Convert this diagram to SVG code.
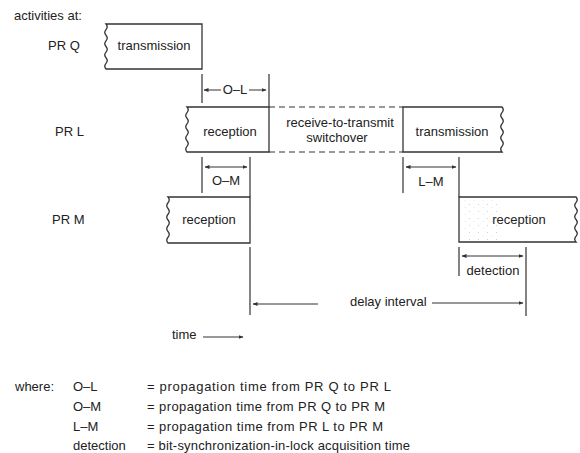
<svg xmlns="http://www.w3.org/2000/svg" width="580" height="453" viewBox="0 0 580 453">
<style>
text{font-family:"Liberation Sans",Arial,sans-serif;font-size:13px;fill:#222}
.c{text-anchor:middle}
.box{fill:#fff;stroke:#333;stroke-width:1.3}
.ln{stroke:#333;stroke-width:1.2;fill:none}
.dash{stroke:#333;stroke-width:1.2;stroke-dasharray:6 4;fill:none}
.ar{stroke:#333;stroke-width:1;fill:none;marker-end:url(#ah)}
.ar2{stroke:#333;stroke-width:1;fill:none;marker-end:url(#ah);marker-start:url(#ah)}
</style>
<defs>
<marker id="ah" viewBox="0 0 10 10" refX="9" refY="5" markerWidth="5" markerHeight="5" orient="auto-start-reverse" markerUnits="userSpaceOnUse"><path d="M0,1 L10,5 L0,9 z" fill="#333"/></marker>
<pattern id="spk" width="9" height="7" patternUnits="userSpaceOnUse"><circle cx="1.5" cy="1.5" r="0.6" fill="#ccc"/><circle cx="6" cy="4.5" r="0.5" fill="#ddd"/></pattern>
</defs>
<rect width="580" height="453" fill="#fff"/>
<g id="labels">
<text x="14" y="20">activities at:</text>
<text x="48" y="50">PR Q</text>
<text x="55" y="136">PR L</text>
<text x="52" y="224">PR M</text>
</g>
<g id="q-transmission">
<path class="box" d="M106,24 H202 V69 H106 q-2.5,-2.8 0,-5.625 q2.5,-2.8 0,-5.625 q-2.5,-2.8 0,-5.625 q2.5,-2.8 0,-5.625 q-2.5,-2.8 0,-5.625 q2.5,-2.8 0,-5.625 q-2.5,-2.8 0,-5.625 q2.5,-2.8 0,-5.625 Z"/>
<text class="c" x="154" y="50">transmission</text>
</g>
<g id="l-reception">
<path class="box" d="M187,107 H269 V152 H187 q-2.5,-2.8 0,-5.625 q2.5,-2.8 0,-5.625 q-2.5,-2.8 0,-5.625 q2.5,-2.8 0,-5.625 q-2.5,-2.8 0,-5.625 q2.5,-2.8 0,-5.625 q-2.5,-2.8 0,-5.625 q2.5,-2.8 0,-5.625 Z"/>
<text class="c" x="230" y="136">reception</text>
</g>
<g id="l-switchover">
<path class="dash" d="M269,107 H403 M269,152 H403"/>
<text class="c" x="340" y="127">receive-to-transmit</text>
<text class="c" x="337" y="142">switchover</text>
</g>
<g id="l-transmission">
<path class="box" d="M403,107 H502 q2.5,2.8 0,5.625 q-2.5,2.8 0,5.625 q2.5,2.8 0,5.625 q-2.5,2.8 0,5.625 q2.5,2.8 0,5.625 q-2.5,2.8 0,5.625 q2.5,2.8 0,5.625 q-2.5,2.8 0,5.625 H403 Z"/>
<text class="c" x="452" y="136">transmission</text>
</g>
<g id="m-reception1">
<path class="box" d="M168,197 H250 V243 H168 q-2.5,-2.9 0,-5.75 q2.5,-2.9 0,-5.75 q-2.5,-2.9 0,-5.75 q2.5,-2.9 0,-5.75 q-2.5,-2.9 0,-5.75 q2.5,-2.9 0,-5.75 q-2.5,-2.9 0,-5.75 q2.5,-2.9 0,-5.75 Z"/>
<text class="c" x="209" y="224">reception</text>
</g>
<g id="m-reception2">
<path class="box" d="M459,197 H576 q2.5,2.8 0,5.625 q-2.5,2.8 0,5.625 q2.5,2.8 0,5.625 q-2.5,2.8 0,5.625 q2.5,2.8 0,5.625 q-2.5,2.8 0,5.625 q2.5,2.8 0,5.625 q-2.5,2.8 0,5.625 H459 Z"/>
<rect x="461" y="199" width="40" height="41" fill="url(#spk)"/>
<text class="c" x="519" y="224">reception</text>
</g>
<g id="connectors">
<path class="ln" d="M202,74 V103 M269,74 V107"/>
<line class="ar" x1="221" y1="90" x2="204" y2="90"/>
<line class="ar" x1="249" y1="90" x2="266" y2="90"/>
<text class="c" x="235" y="94">O–L</text>
<path class="ln" d="M202,157 V193 M250,157 V197"/>
<line class="ar2" x1="205" y1="167" x2="247" y2="167"/>
<text class="c" x="226" y="185">O–M</text>
<path class="ln" d="M403,157 V193 M459,157 V197"/>
<line class="ar2" x1="406" y1="167" x2="456" y2="167"/>
<text class="c" x="431" y="186">L–M</text>
<path class="ln" d="M459,247 V276 M526,247 V316"/>
<line class="ar2" x1="462" y1="256" x2="523" y2="256"/>
<text class="c" x="493" y="275">detection</text>
<path class="ln" d="M250,247 V315"/>
<line class="ar" x1="318" y1="304" x2="253" y2="304"/>
<line class="ar" x1="432" y1="303" x2="523" y2="303"/>
<text x="350" y="306">delay interval</text>
<text x="172" y="339">time</text>
<line class="ar" x1="203" y1="337" x2="243" y2="337"/>
</g>
<g id="legend">
<text x="15" y="391">where:</text>
<text x="73" y="391">O–L</text>
<text x="73" y="411">O–M</text>
<text x="73" y="431">L–M</text>
<text x="73" y="450">detection</text>
<text x="147" y="391" textLength="244" lengthAdjust="spacing">= propagation time from PR Q to PR L</text>
<text x="147" y="411" textLength="238" lengthAdjust="spacing">= propagation time from PR Q to PR M</text>
<text x="147" y="431" textLength="236" lengthAdjust="spacing">= propagation time from PR L to PR M</text>
<text x="147" y="450" textLength="263" lengthAdjust="spacing">= bit-synchronization-in-lock acquisition time</text>
</g>
</svg>
